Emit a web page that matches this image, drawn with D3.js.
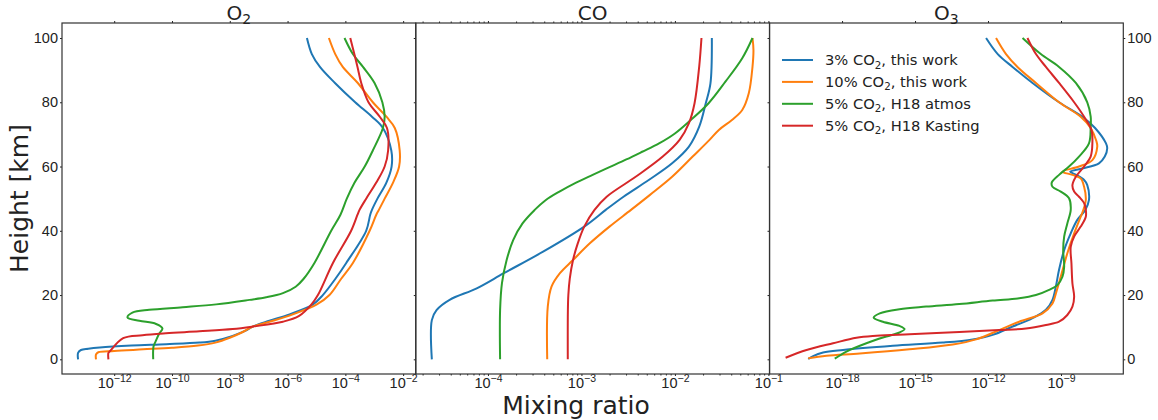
<!DOCTYPE html>
<html>
<head>
<meta charset="utf-8">
<script src="https://cdn.jsdelivr.net/npm/d3@7"></script>
<style>
  body { margin: 0; background: #fff; }
  svg { display: block; font-family: 'DejaVu Sans', sans-serif; }
</style>
</head>
<body>
<div id="chart"></div>
<script>
// [height km, log10 mixing ratio]
const o2Blue = [[0,-13.25],[2,-13.25],[2.9,-13.15],[3.3,-12.9],[3.7,-12.5],[4.3,-11.4],[4.7,-10.2],[5.2,-9.05],[5.8,-8.5],[7.3,-7.9],[8.9,-7.45],[10.2,-7.2],[12,-6.63],[14,-5.93],[17,-5.13],[20,-4.78],[25,-4.35],[30,-3.97],[40,-3.28],[45,-3.14],[46.5,-3.08],[50,-2.89],[55,-2.58],[60,-2.40],[65,-2.41],[72,-2.70],[75.5,-3.08],[80,-3.66],[86,-4.36],[91,-4.88],[95,-5.16],[100,-5.33]];
const o2Orange = [[0,-12.63],[1.5,-12.63],[2.2,-12.55],[2.6,-12.0],[3.1,-11.0],[3.6,-10.0],[4.3,-9.1],[5.2,-8.5],[6.7,-8.0],[8.5,-7.55],[10.2,-7.2],[12,-6.51],[14,-5.82],[17,-5.0],[20,-4.55],[25,-4.15],[30,-3.74],[40,-3.16],[45,-2.93],[46.5,-2.84],[50,-2.64],[55,-2.35],[60,-2.14],[65,-2.12],[72,-2.29],[75.5,-2.58],[80,-3.05],[86,-3.57],[91,-4.09],[95,-4.35],[100,-4.57]];
const o2Green = [[0,-10.65],[4,-10.64],[5.5,-10.57],[7.9,-10.45],[9.6,-10.33],[11,-10.55],[12,-11.13],[13,-11.54],[14.5,-11.37],[15.4,-10.79],[16.2,-9.63],[17.1,-8.47],[18.5,-7.32],[19.3,-6.74],[20.6,-6.16],[22.6,-5.72],[25,-5.45],[30,-5.07],[40,-4.49],[45,-4.17],[50,-3.95],[55,-3.68],[60,-3.33],[65,-3.05],[72,-2.70],[75.5,-2.64],[80,-2.72],[86,-2.99],[91,-3.39],[95,-3.74],[100,-4.03]];
const o2Red = [[0,-12.2],[2,-12.2],[2.5,-12.15],[6.6,-11.69],[7.5,-11.02],[8.1,-10.21],[8.7,-9.05],[9.4,-7.9],[10.2,-7.2],[11.7,-6.16],[13.5,-5.6],[17,-5.18],[20,-4.95],[30,-4.43],[40,-3.80],[45,-3.58],[46.5,-3.51],[50,-3.28],[55,-2.93],[60,-2.64],[65,-2.52],[72,-2.56],[75.5,-2.81],[80,-3.20],[86,-3.45],[91,-3.58],[95,-3.69],[100,-3.83]];

const coBlue = [[0,-4.6],[12.2,-4.6],[15.3,-4.55],[18.5,-4.41],[22.1,-4.12],[26.8,-3.83],[33.5,-3.41],[41.3,-2.97],[46.5,-2.74],[50.6,-2.55],[55.8,-2.28],[61,-2.03],[66.2,-1.85],[72.4,-1.74],[79.7,-1.67],[85.9,-1.62],[100,-1.605]];
const coOrange = [[0,-3.366],[16.4,-3.36],[22.6,-3.32],[26.8,-3.23],[30.9,-3.09],[36.1,-2.91],[41.3,-2.70],[46.5,-2.47],[51.1,-2.27],[56.8,-2.03],[63.1,-1.81],[68.3,-1.63],[71.4,-1.53],[74.5,-1.39],[77.6,-1.28],[82.8,-1.21],[91.1,-1.17],[96.3,-1.16],[100,-1.17]];
const coGreen = [[0,-3.87],[15.3,-3.87],[23.7,-3.85],[30.9,-3.80],[37.1,-3.73],[42.3,-3.63],[46.5,-3.50],[49.6,-3.38],[52.2,-3.235],[55,-3.057],[57.4,-2.88],[59.8,-2.70],[62.2,-2.52],[64.6,-2.35],[67.2,-2.17],[70.3,-2.0],[74.5,-1.83],[79.7,-1.64],[86.4,-1.46],[93.7,-1.28],[100,-1.17]];
const coRed = [[0,-3.146],[15,-3.145],[20,-3.14],[25,-3.125],[30.9,-3.09],[36,-3.04],[41.3,-2.97],[46.5,-2.86],[50.6,-2.73],[56.8,-2.42],[63.1,-2.13],[68.3,-1.95],[73.5,-1.85],[79.7,-1.79],[91.2,-1.74],[100,-1.716]];

const o3Blue = [[0.1,-19.39],[1,-19.19],[2.1,-18.78],[2.9,-17.96],[4.2,-15.91],[5.2,-13.86],[6.2,-12.63],[7.6,-11.81],[10.2,-10.99],[12.8,-10.17],[15.4,-9.62],[18.5,-9.35],[22.7,-9.21],[27.9,-9.08],[34,-8.87],[39.2,-8.6],[43.4,-8.33],[46.5,-8.0],[49.6,-7.85],[54.2,-7.92],[55.8,-8.05],[57.5,-8.4],[58.4,-8.62],[59.4,-8.12],[61,-7.44],[63.1,-7.2],[65.7,-7.10],[67.2,-7.15],[72,-7.6],[75.5,-8.12],[80,-9.08],[86,-10.17],[91,-10.99],[95,-11.6],[100,-12.08]];
const o3Orange = [[0.3,-19.39],[1.1,-18.64],[1.8,-17.27],[3.1,-15.23],[4.6,-13.45],[6.2,-12.49],[9.1,-11.54],[11.7,-10.72],[14.3,-9.76],[17.4,-9.35],[20.5,-9.21],[25.7,-9.01],[33,-8.74],[39.2,-8.46],[44.4,-8.19],[46.5,-8.08],[49.6,-7.98],[53.7,-8.05],[56.3,-8.19],[57.4,-8.53],[58.4,-8.94],[60,-8.26],[62,-7.71],[66.2,-7.51],[68,-7.55],[72,-7.78],[75.5,-8.19],[80,-9.08],[86,-10.03],[91,-10.79],[95,-11.26],[100,-11.67]];
const o3Green = [[0.2,-18.3],[2.4,-17.82],[5,-17.0],[7.1,-16.18],[8.35,-15.64],[9.4,-15.43],[10.4,-15.64],[11.7,-16.32],[13,-16.7],[14.3,-16.45],[15.6,-15.64],[16.4,-14.54],[17.2,-13.18],[18.3,-11.81],[19,-10.72],[20,-10.03],[21.6,-9.49],[23.1,-9.15],[25.7,-8.94],[28.8,-8.87],[34,-8.91],[38.2,-8.87],[42.3,-8.74],[46.5,-8.6],[50.1,-8.67],[52.2,-9.01],[53.7,-9.35],[55,-9.38],[57.4,-9.08],[60,-8.67],[63.1,-8.26],[67.2,-7.85],[72.4,-7.78],[75.5,-7.78],[80,-7.92],[86,-8.39],[91,-9.08],[95,-9.83],[100,-10.58]];
const o3Red = [[0.5,-20.32],[2.9,-19.46],[5,-18.37],[6.7,-17.41],[7.3,-16.59],[7.8,-15.23],[8.5,-13.18],[9.1,-11.54],[9.6,-10.44],[10.7,-9.62],[11.7,-9.08],[13.8,-8.74],[16.4,-8.53],[19.5,-8.46],[23.6,-8.53],[29.8,-8.57],[35,-8.60],[38.2,-8.46],[41.3,-8.19],[44.4,-7.98],[46.5,-7.98],[48.6,-8.05],[50.6,-8.26],[52.2,-8.46],[54.2,-8.53],[56.8,-8.39],[60,-8.05],[63.1,-7.78],[67.2,-7.71],[71.4,-7.75],[75.5,-8.05],[80,-8.46],[86,-9.08],[91,-9.62],[95,-10.03],[100,-10.38]];

const seriesColors = ['#1f77b4', '#ff7f0e', '#2ca02c', '#d62728'];
const legendLabels = [
  ['3% CO', '2', ', this work'],
  ['10% CO', '2', ', this work'],
  ['5% CO', '2', ', H18 atmos'],
  ['5% CO', '2', ', H18 Kasting']
];
const heightTicks = [0, 20, 40, 60, 80, 100];

const panels = [
  { title: ['O', '2'], series: [o2Blue, o2Orange, o2Green, o2Red], ticks: [-12, -10, -8, -6, -4, -2], minor: false },
  { title: ['CO', ''], series: [coBlue, coOrange, coGreen, coRed], ticks: [-4, -3, -2, -1], minor: true },
  { title: ['O', '3'], series: [o3Blue, o3Orange, o3Green, o3Red], ticks: [-18, -15, -12, -9], minor: false }
];

const width = 1158;
const height = 420;
const plotLeft = 62;
const plotRight = 1123.3;
const plotTop = 23;
const plotBottom = 374;
const panelW = (plotRight - plotLeft) / 3;
const ink = '#222';

const svg = d3.select('#chart')
  .append('svg')
  .attr('width', width)
  .attr('height', height)
  .attr('viewBox', `0 0 ${width} ${height}`);

const y = d3.scaleLinear()
  .domain([-4.57, 104.67])
  .range([plotBottom, plotTop]);

function sciLabels(sel) {
  sel.each(function (d) {
    const e = Math.round(Math.log10(d));
    const t = d3.select(this);
    t.text(null);
    t.append('tspan').text('10');
    t.append('tspan').attr('dy', -6).attr('font-size', 10.5).text('\u2212' + Math.abs(e));
  });
}

panels.forEach((p, i) => {
  const x0 = plotLeft + i * panelW;
  const all = p.series.flat().map(d => d[1]);
  const lo = d3.min(all);
  const hi = d3.max(all);
  const pad = (hi - lo) * 0.05;
  const x = d3.scaleLog()
    .domain([Math.pow(10, lo - pad), Math.pow(10, hi + pad)])
    .range([0, panelW]);

  const g = svg.append('g').attr('transform', `translate(${x0},0)`);

  const line = d3.line()
    .x(d => x(Math.pow(10, d[1])))
    .y(d => y(d[0]))
    .curve(d3.curveCatmullRom.alpha(0.5));

  g.selectAll('path.series')
    .data(p.series)
    .join('path')
    .attr('class', 'series')
    .attr('d', line)
    .attr('fill', 'none')
    .attr('stroke', (d, k) => seriesColors[k])
    .attr('stroke-width', 2)
    .attr('stroke-linejoin', 'round');

  const tickVals = p.ticks.map(e => Math.pow(10, e));

  // bottom axis
  const bottom = g.append('g')
    .attr('transform', `translate(0,${plotBottom})`)
    .call(d3.axisBottom(x).tickValues(tickVals).tickSize(2).tickSizeOuter(0).tickPadding(2));
  bottom.selectAll('.tick text').attr('font-size', 14.5).attr('fill', ink).call(sciLabels);

  // top axis ticks
  g.append('g')
    .attr('transform', `translate(0,${plotTop})`)
    .call(d3.axisTop(x).tickValues(tickVals).tickSize(2).tickSizeOuter(0).tickFormat(''));

  if (p.minor) {
    const [d0, d1] = x.domain();
    const minors = [];
    for (let e = Math.floor(Math.log10(d0)); e <= Math.ceil(Math.log10(d1)); e++) {
      for (let m = 2; m <= 9; m++) {
        const v = m * Math.pow(10, e);
        if (v > d0 && v < d1) minors.push(v);
      }
    }
    g.append('g').attr('transform', `translate(0,${plotBottom})`)
      .call(d3.axisBottom(x).tickValues(minors).tickSize(1.5).tickSizeOuter(0).tickFormat(''));
    g.append('g').attr('transform', `translate(0,${plotTop})`)
      .call(d3.axisTop(x).tickValues(minors).tickSize(1.5).tickSizeOuter(0).tickFormat(''));
  }

  // left axis
  const left = g.append('g')
    .call(d3.axisLeft(y).tickValues(heightTicks).tickSize(2).tickSizeOuter(0).tickPadding(2));
  left.selectAll('.tick text').attr('font-size', 14.5).attr('fill', ink);
  if (i > 0) left.selectAll('.tick text').remove();

  if (i === 2) {
    const right = g.append('g')
      .attr('transform', `translate(${panelW},0)`)
      .call(d3.axisRight(y).tickValues(heightTicks).tickSize(2).tickSizeOuter(0).tickPadding(2));
    right.selectAll('.tick text').attr('font-size', 14.5).attr('fill', ink);
  }

  g.selectAll('.domain').remove();
  g.selectAll('.tick line').attr('stroke', ink);

  g.append('rect')
    .attr('x', 0)
    .attr('y', plotTop)
    .attr('width', panelW)
    .attr('height', plotBottom - plotTop)
    .attr('fill', 'none')
    .attr('stroke', '#333')
    .attr('stroke-width', 1.2);

  const title = g.append('text')
    .attr('x', panelW / 2)
    .attr('y', 20)
    .attr('text-anchor', 'middle')
    .attr('font-size', 20)
    .attr('fill', ink);
  title.append('tspan').text(p.title[0]);
  if (p.title[1]) title.append('tspan').attr('dy', 4).attr('font-size', 14).text(p.title[1]);

  if (i === 2) {
    const leg = g.append('g');
    legendLabels.forEach((lab, k) => {
      const cy = 60 + k * 21.9;
      leg.append('line')
        .attr('x1', 782 - x0).attr('x2', 813 - x0)
        .attr('y1', cy).attr('y2', cy)
        .attr('stroke', seriesColors[k])
        .attr('stroke-width', 2);
      const t = leg.append('text')
        .attr('x', 825 - x0)
        .attr('y', cy + 5)
        .attr('font-size', 14.7)
        .attr('fill', ink);
      t.append('tspan').text(lab[0]);
      t.append('tspan').attr('dy', 3.5).attr('font-size', 10.3).text(lab[1]);
      t.append('tspan').attr('dy', -3.5).text(lab[2]);
    });
  }
});

svg.append('text')
  .attr('x', 576)
  .attr('y', 414)
  .attr('text-anchor', 'middle')
  .attr('font-size', 25)
  .attr('fill', ink)
  .text('Mixing ratio');

svg.append('text')
  .attr('transform', `translate(28,${(plotTop + plotBottom) / 2}) rotate(-90)`)
  .attr('text-anchor', 'middle')
  .attr('font-size', 25)
  .attr('fill', ink)
  .text('Height [km]');
</script>
</body>
</html>
